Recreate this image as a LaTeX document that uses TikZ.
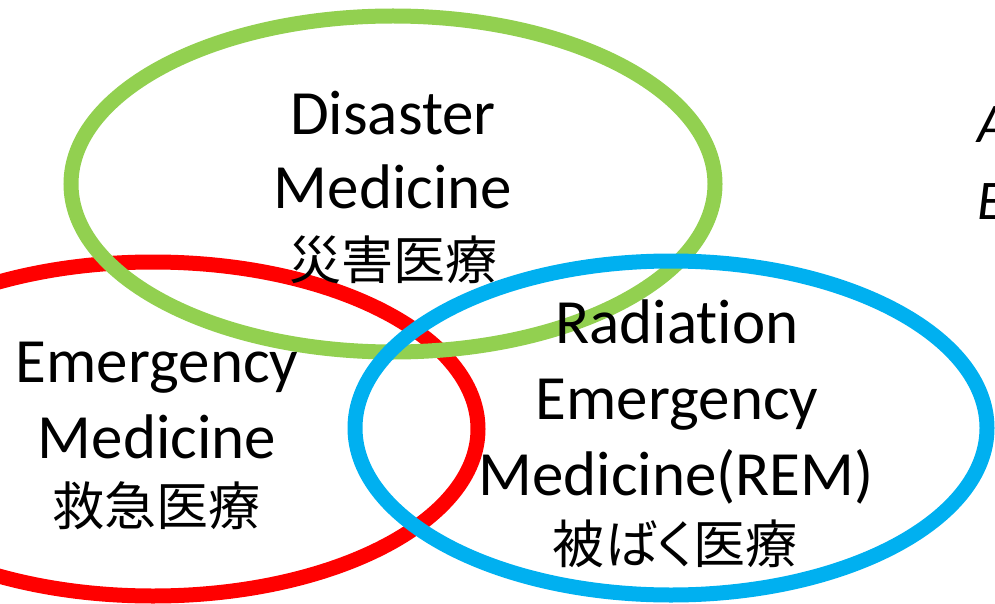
\documentclass[tikz,border=0pt]{standalone}
\usepackage{fontspec}
\setmainfont{Carlito}[Ligatures=NoCommon,RawFeature=-liga]
\newfontfamily\jpfont{Noto Sans CJK JP}
\newfontfamily\jpprop[RawFeature=+palt]{Noto Sans CJK JP}
\definecolor{cgreen}{HTML}{92D050}
\definecolor{cred}{HTML}{FF0000}
\definecolor{cblue}{HTML}{00B0F0}
\begin{document}
\begin{tikzpicture}[x=1pt,y=-1pt,
  ring/.style={line width=15pt},
  lat/.style={inner sep=0pt,anchor=base,font=\fontsize{63}{76}\selectfont},
  jp/.style={inner sep=0pt,anchor=center,font=\jpfont\fontsize{52}{60}\selectfont},
  jpp/.style={inner sep=0pt,anchor=center,font=\jpprop\fontsize{52}{60}\selectfont},
  side/.style={inner sep=0pt,anchor=base west,font=\itshape\fontsize{56}{60}\selectfont}]
\useasboundingbox (0,0) rectangle (995,604);
\clip (0,0) rectangle (995,604);
% circles
\draw[ring,cred] (153,429) ellipse [x radius=325, y radius=167];
\draw[ring,cgreen] (393,184) ellipse [x radius=322, y radius=168];
\draw[ring,cblue] (671,428) ellipse [x radius=316, y radius=167];
% disaster
\node[lat] (d1) at (393,135) {Disaster};
\node[lat] (d2) at (393,208) {Medicine};
\node[jp] (d3) at (393,260) {災害医療};
% emergency
\node[lat] (e1) at (157,382) {Emergency};
\node[lat] (e2) at (157,458) {Medicine};
\node[jp] (e3) at (156,506) {救急医療};
% radiation
\node[lat] (r1) at (677,343) {Radiation};
\node[lat] (r2) at (677,419) {Emergency};
\node[lat] (r3) at (676,495) {Medicine(REM)};
\node[jpp] (r4) at (675,544) {被ばく医療};
% side text cut off at the edge
\node[side] (s1) at (977,143) {A};
\node[side] (s2) at (977,219) {E};
\end{tikzpicture}
\end{document}
